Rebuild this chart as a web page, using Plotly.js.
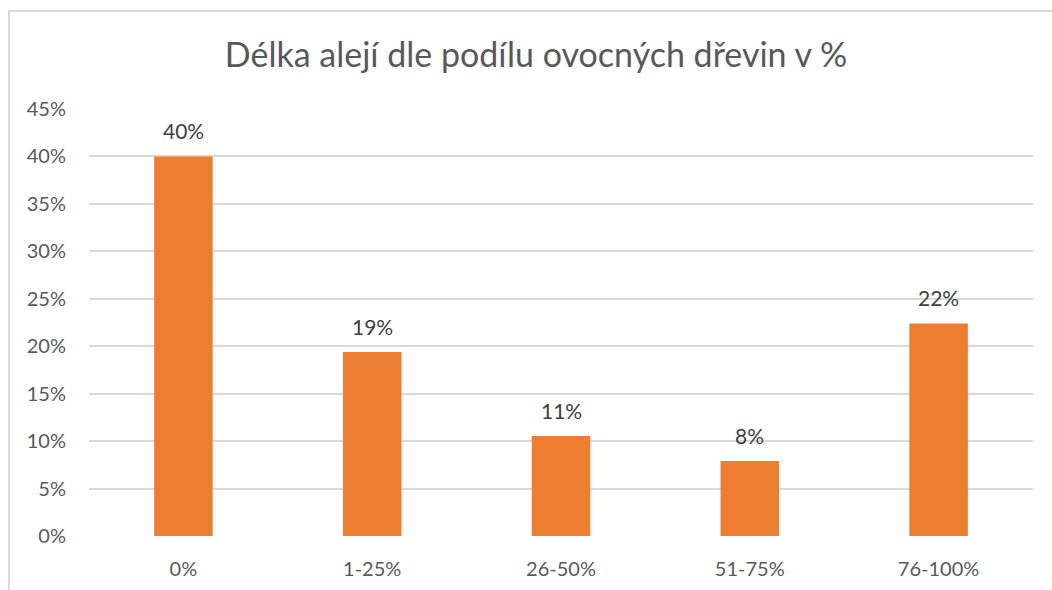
<!DOCTYPE html>
<html>
<head>
<meta charset="utf-8">
<script src="https://cdn.plot.ly/plotly-3.0.1.min.js"></script>
<style>
html,body{margin:0;padding:0;background:#fff;overflow:hidden;}
#frame{position:absolute;left:8px;top:10px;width:1100px;height:700px;border:2px solid #d9d9d9;box-sizing:border-box;}
#chart{position:absolute;left:0;top:0;width:1052px;height:590px;}
</style>
</head>
<body>
<div id="frame"></div>
<div id="chart"></div>
<script>
const categories = ["0%", "1-25%", "26-50%", "51-75%", "76-100%"];
const values = [0.40, 0.194, 0.1055, 0.079, 0.224];
const labels = ["40%", "19%", "11%", "8%", "22%"];
const yTickVals = [0, 0.05, 0.10, 0.15, 0.20, 0.25, 0.30, 0.35, 0.40, 0.45];
const yTickText = ["0%", "5%", "10%", "15%", "20%", "25%", "30%", "35%", "40%", "45%"];

const font = "Lato, 'Open Sans', sans-serif";

const annotations = categories.map((c, i) => ({
  x: c, y: values[i], xref: "x", yref: "y", text: labels[i], showarrow: false,
  yanchor: "bottom", yshift: 11,
  font: {family: font, size: 21, color: "#404040"}
}));

Plotly.newPlot("chart", [{
  type: "bar",
  x: categories,
  y: values,
  marker: {color: "#ED7D31"},
  hoverinfo: "none"
}], {
  width: 1052, height: 590,
  paper_bgcolor: "rgba(0,0,0,0)",
  plot_bgcolor: "rgba(0,0,0,0)",
  margin: {l: 89, r: 19, t: 109, b: 54},
  bargap: 0.69,
  showlegend: false,
  annotations: annotations,
  title: {text: "Délka alejí dle podílu ovocných dřevin v %", x: 0.5095, xanchor: "center", xref: "container", y: 0.907, yanchor: "middle", yref: "container",
    font: {family: font, size: 34, color: "#595959"}},
  xaxis: {type: "category", showgrid: false, zeroline: false, showline: false, ticks: "",
    tickfont: {family: font, size: 20, color: "#595959"}, ticklabelstandoff: 19, fixedrange: true},
  yaxis: {range: [0, 0.45], tickvals: yTickVals, ticktext: yTickText, showgrid: true, gridcolor: "#d9d9d9", gridwidth: 2,
    zeroline: false, showline: false, ticks: "",
    tickfont: {family: font, size: 20, color: "#595959"}, ticklabelstandoff: 22, fixedrange: true}
}, {displayModeBar: false, staticPlot: true});
</script>
</body>
</html>
